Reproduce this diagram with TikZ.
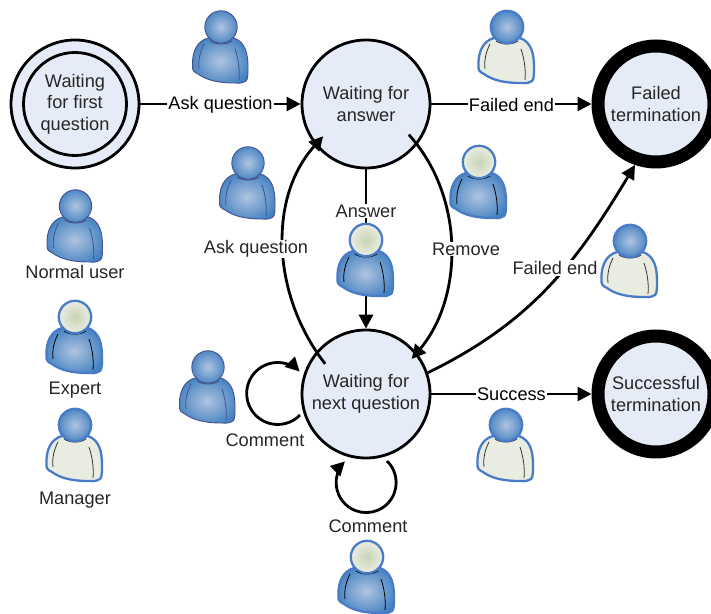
\documentclass[tikz,border=0pt]{standalone}
\usepackage{fontspec}
\setmainfont{Liberation Sans}
\usetikzlibrary{arrows.meta, calc}
\definecolor{statefill}{HTML}{E6ECF7}
\definecolor{blueouter}{HTML}{3F7FC0}
\definecolor{blueinner}{HTML}{B0C4E0}
\definecolor{edgedark}{HTML}{44508F}
\definecolor{edgeblue}{HTML}{4A7BC6}
\definecolor{palebody}{HTML}{E9EDE1}
\definecolor{paleinner}{HTML}{C8D3B6}
\definecolor{paleouter}{HTML}{F3F5EE}
\pgfdeclareradialshading{bluefade}{\pgfpointorigin}{color(0bp)=(blueinner); color(29bp)=(blueouter); color(50bp)=(blueouter)}
\pgfdeclareradialshading{palefade}{\pgfpointorigin}{color(0bp)=(paleinner); color(32bp)=(paleouter); color(50bp)=(paleouter)}
\newcommand{\personicon}[4]{
  \path[#2, #3] (-13,-11) .. controls (-24,-14) and (-29,-25) .. (-28.5,-38)
    .. controls (-29,-44) and (-27,-45) .. (-23,-47)
    .. controls (-15,-53) and (-3,-56) .. (13,-56)
    .. controls (17,-56) and (20,-57) .. (25,-54)
    .. controls (27,-52) and (27,-48) .. (27,-40)
    .. controls (27,-26) and (24,-15) .. (13,-11) -- cycle;
  \draw[#4, line width=.8pt] (-17,-17) .. controls (-21,-25) and (-23,-33) .. (-22,-42);
  \draw[#4, line width=.8pt] (14,-22) .. controls (17,-31) and (19,-42) .. (18,-53);
  \draw[#4, line width=.9pt] (-11,-14) .. controls (-5,-18) and (5,-18) .. (11,-14);
  \path[#1, #3] (0,0) circle (16.2);
}
\tikzset{
  bluehead/.style={shading=bluefade},
  palehead/.style={shading=palefade},
  bluebody/.style={shading=bluefade},
  palecloth/.style={fill=palebody},
  thinedge/.style={draw=edgedark, line width=.9pt},
  thickedge/.style={draw=edgeblue, line width=2.3pt},
  normaluser/.pic={\personicon{bluehead}{bluebody}{thinedge}{edgedark}},
  expertuser/.pic={\personicon{palehead}{bluebody}{thickedge}{black}},
  manageruser/.pic={\personicon{bluehead}{palecloth}{thickedge}{black!80}},
  state/.style={circle, draw=black, fill=statefill, line width=2.8pt, minimum size=128pt, inner sep=0pt, align=center},
  endstate/.style={circle, draw=black, fill=statefill, line width=13pt, minimum size=116pt, inner sep=0pt, align=center},
  conn/.style={-{Triangle[length=14pt, width=14pt]}, line width=2.8pt, black},
  lab/.style={fill=white, inner sep=1pt},
  plainlab/.style={inner sep=1pt}
}
\begin{document}
\begin{tikzpicture}[x=1pt, y=1pt, font=\fontsize{18.2}{21.5}\selectfont, text=black!85]
\useasboundingbox (0,0) rectangle (711,613);
% states
\node[state] (firstouter) at (75,509) {};
\node[state, minimum size=103pt] (first) at (75,509) {Waiting\\for first\\question};
\node[state] (answer) at (366,509) {Waiting for\\answer};
\node[state] (next) at (366,219) {Waiting for\\next question};
\node[endstate] (failed) at (656,509) {Failed\\termination};
\node[endstate] (success) at (656,219) {Successful\\termination};
% straight connectors
\draw[conn] (firstouter) -- node[lab, yshift=-1pt] (askone) {Ask question} (answer);
\draw[conn] (answer) -- node[lab, yshift=-1pt] (failone) {Failed end} (failed);
\draw[conn] (next) -- node[lab] (successlab) {Success} (success);
\draw[conn] (answer) -- (next);
\node[lab] (answerlab) at (366,402) {Answer};
% curves
\draw[conn, shorten <=-15pt, shorten >=-12pt] (next.140.6) to[out=128, in=228, looseness=.88] (answer.219.7);
\draw[conn, shorten <=-13pt, shorten >=-8pt] (answer.-38) to[out=-48, in=50, looseness=.88] (next.39.3);
\draw[conn] (next.19.3) to[out=26, in=239, looseness=1] (failed.251);
\node[lab] (asklab) at (256,364) {Ask question};
\node[lab] (removelab) at (466,364) {Remove};
\node[lab] (failtwo) at (555,345) {Failed end};
% loops
\coordinate (loopleft) at (300,198);
\coordinate (loopbottom) at (387,152);
\draw[conn] (loopleft) arc[start angle=-44, delta angle=-271, radius=31];
\draw[conn] (loopbottom) arc[start angle=46, delta angle=-271, radius=30];
\node[plainlab] (commentleft) at (265,173) {Comment};
\node[plainlab] (commentbottom) at (368,87) {Comment};
% people
\pic at (221,586) {normaluser};
\pic at (248,450) {normaluser};
\pic at (208,246) {normaluser};
\pic at (75.5,407) {normaluser};
\pic at (75,296) {expertuser};
\pic at (366,373) {expertuser};
\pic at (479,451) {expertuser};
\pic at (367,56) {expertuser};
\pic at (75,188) {manageruser};
\pic at (507,586) {manageruser};
\pic at (630,372) {manageruser};
\pic at (506,188) {manageruser};
% legend
\node[plainlab] (normallab) at (75,341) {Normal user};
\node[plainlab] (expertlab) at (75,223) {Expert};
\node[plainlab] (managerlab) at (75,113) {Manager};
\end{tikzpicture}
\end{document}
